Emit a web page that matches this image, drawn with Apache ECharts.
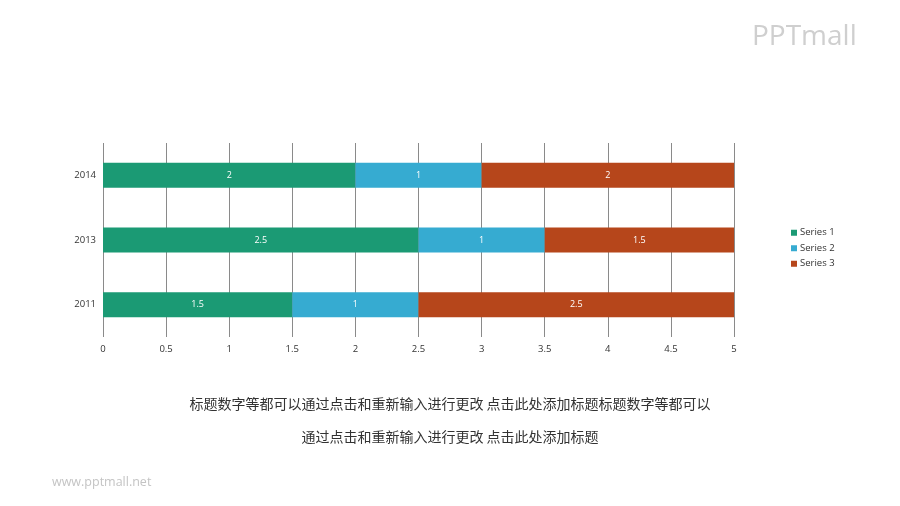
<!DOCTYPE html>
<html>
<head>
<meta charset="utf-8">
<script src="https://cdn.jsdelivr.net/npm/echarts@6/dist/echarts.min.js"></script>
<style>html,body{margin:0;padding:0;background:#fff}#c{width:900px;height:506px}</style>
</head>
<body>
<div id="c"></div>
<script>
var categories = ['2011', '2013', '2014'];
var series1 = [1.5, 2.5, 2];
var series2 = [1, 1, 1];
var series3 = [2.5, 1.5, 2];
var seriesNames = ['Series 1', 'Series 2', 'Series 3'];
var xTicks = [0, 0.5, 1, 1.5, 2, 2.5, 3, 3.5, 4, 4.5, 5];
var captionLine1 = '标题数字等都可以通过点击和重新输入进行更改 点击此处添加标题标题数字等都可以';
var captionLine2 = '通过点击和重新输入进行更改 点击此处添加标题';

var colors = ['#1b9a74', '#36abd1', '#b6461b'];
var font = '"Open Sans", "Noto Sans CJK SC", sans-serif';
var chart = echarts.init(document.getElementById('c'));
function mk(name, data, i) {
  return {
    name: name, type: 'bar', stack: 'total', data: data, barWidth: 25,
    itemStyle: { color: colors[i] },
    label: { show: true, position: 'inside', color: '#fff', fontSize: 9, fontFamily: font },
    z: 3
  };
}
chart.setOption({
  animation: false,
  textStyle: { fontFamily: font },
  grid: { left: 103, right: 166, top: 143, bottom: 169, containLabel: false },
  legend: {
    orient: 'vertical', left: 786, top: 223, itemWidth: 6, itemHeight: 6, itemGap: 6,
    icon: 'rect',
    textStyle: { fontSize: 9.5, color: '#333', fontFamily: font, padding: [0, 0, 0, -2] },
    data: seriesNames
  },
  xAxis: {
    type: 'value', min: 0, max: 5, interval: 0.5,
    axisLine: { show: false }, axisTick: { show: false },
    splitLine: { show: true, lineStyle: { color: '#8a8a8a', width: 1 } },
    axisLabel: { fontSize: 9.5, color: '#333', margin: 8, fontFamily: font,
      formatter: function (v) { return xTicks.indexOf(v) >= 0 ? String(v) : ''; } }
  },
  yAxis: {
    type: 'category', data: categories,
    axisLine: { show: false }, axisTick: { show: false },
    axisLabel: { fontSize: 9.5, color: '#333', margin: 7, fontFamily: font }
  },
  series: [mk(seriesNames[0], series1, 0), mk(seriesNames[1], series2, 1), mk(seriesNames[2], series3, 2)],
  graphic: [
    { type: 'text', left: 'center', top: 397, style: { text: captionLine1, fontSize: 14, fill: '#333', fontFamily: '"Noto Sans CJK SC", sans-serif' } },
    { type: 'text', left: 'center', top: 430, style: { text: captionLine2, fontSize: 14, fill: '#333', fontFamily: '"Noto Sans CJK SC", sans-serif' } },
    { type: 'text', left: 52, top: 476, style: { text: 'www.pptmall.net', fontSize: 12.5, fill: '#c4c4c4', fontFamily: font } },
    { type: 'text', left: 752, top: 23, style: { text: 'PPTmall', fontSize: 28, fontWeight: 'normal', fill: '#cfcfcf', fontFamily: '"Open Sans", sans-serif' } }
  ]
});
</script>
</body>
</html>
